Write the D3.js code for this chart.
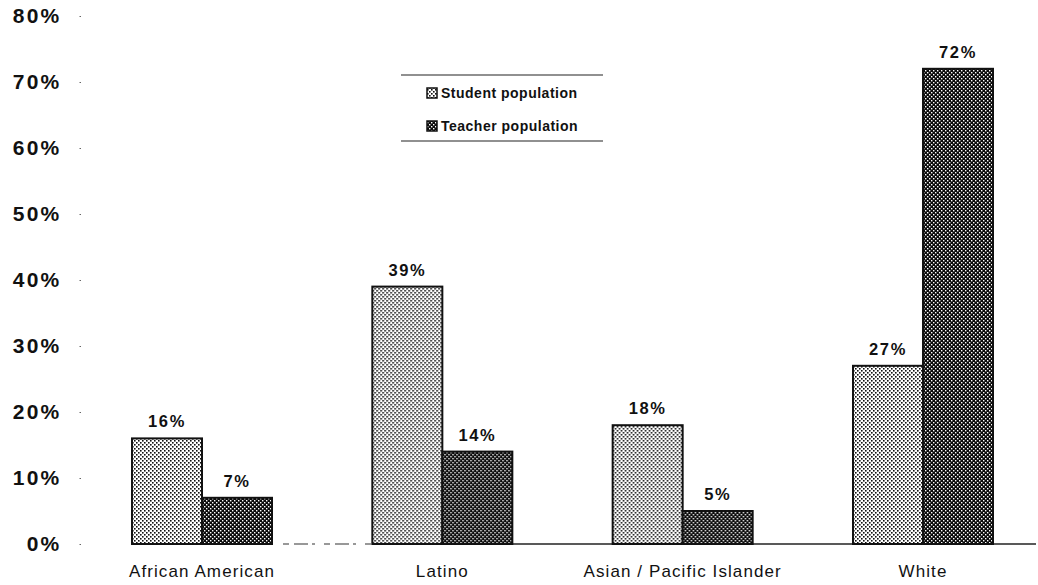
<!DOCTYPE html>
<html>
<head>
<meta charset="utf-8">
<script src="https://cdn.jsdelivr.net/npm/d3@7"></script>
<style>
  html, body { margin: 0; padding: 0; background: #fff; }
  svg { display: block; }
  text { font-family: "Liberation Sans", Arial, Helvetica, sans-serif; fill: #111; }
</style>
</head>
<body>
<svg id="chart" width="1038" height="585"></svg>
<script>
// Share of each group in the student and teacher populations (%)
const categories = ["African American", "Latino", "Asian / Pacific Islander", "White"];
const seriesNames = ["Student population", "Teacher population"];
const studentValues = [16, 39, 18, 27];
const teacherValues = [7, 14, 5, 72];
const tickValues = [0, 10, 20, 30, 40, 50, 60, 70, 80];

const svg = d3.select("#chart");
const defs = svg.append("defs");

// Halftone fills: dark dots on white for students, white dots on black for teachers
const pStudent = defs.append("pattern")
  .attr("id", "pat-student").attr("patternUnits", "userSpaceOnUse")
  .attr("width", 4).attr("height", 4);
pStudent.append("rect").attr("width", 4).attr("height", 4).attr("fill", "#fff");
pStudent.append("rect").attr("x", 0).attr("y", 0).attr("width", 1.6).attr("height", 1.6).attr("fill", "#111");
pStudent.append("rect").attr("x", 2).attr("y", 2).attr("width", 1.6).attr("height", 1.6).attr("fill", "#111");

const pTeacher = defs.append("pattern")
  .attr("id", "pat-teacher").attr("patternUnits", "userSpaceOnUse")
  .attr("width", 4).attr("height", 4);
pTeacher.append("rect").attr("width", 4).attr("height", 4).attr("fill", "#0a0a0a");
pTeacher.append("rect").attr("x", 0).attr("y", 0).attr("width", 1.4).attr("height", 1.4).attr("fill", "#fff");
pTeacher.append("rect").attr("x", 2).attr("y", 2).attr("width", 1.4).attr("height", 1.4).attr("fill", "#fff");

const fills = ["url(#pat-student)", "url(#pat-teacher)"];

// Scales
const y = d3.scaleLinear().domain([0, 80]).range([544, 16]);
const x0 = d3.scalePoint().domain(categories).range([202, 923]);
const x1 = d3.scaleBand().domain(seriesNames).range([-70, 70]).padding(0);

// Y axis: labels only, with tiny tick specks
const yAxis = d3.axisLeft(y).tickValues(tickValues)
  .tickFormat(d => d + "%").tickSize(1.5).tickPadding(18);
const gy = svg.append("g").attr("transform", "translate(81,0)").call(yAxis);
gy.select(".domain").remove();
gy.selectAll(".tick line").attr("stroke", "#666");
gy.selectAll(".tick text")
  .attr("font-size", 21).attr("font-weight", "bold")
  .attr("letter-spacing", 2.2)
  .style("font-family", "'Liberation Sans', Arial, sans-serif")
  .attr("fill", "#111");

// Baseline (broken near the left, solid further right)
svg.append("line")
  .attr("x1", 283).attr("x2", 372).attr("y1", y(0)).attr("y2", y(0))
  .attr("stroke", "#333").attr("stroke-width", 1.2).attr("stroke-dasharray", "6,5,14,4,3,9");
svg.append("line")
  .attr("x1", 372).attr("x2", 1036).attr("y1", y(0)).attr("y2", y(0))
  .attr("stroke", "#222").attr("stroke-width", 1.3);

// Bars
const rows = categories.map((c, i) => ({
  category: c,
  values: [studentValues[i], teacherValues[i]]
}));

const groups = svg.append("g").selectAll("g")
  .data(rows).join("g")
  .attr("transform", d => `translate(${x0(d.category)},0)`);

groups.selectAll("rect")
  .data(d => d.values.map((v, j) => ({ series: seriesNames[j], value: v, j })))
  .join("rect")
  .attr("x", d => x1(d.series))
  .attr("y", d => y(d.value))
  .attr("width", x1.bandwidth())
  .attr("height", d => y(0) - y(d.value))
  .attr("fill", d => fills[d.j])
  .attr("stroke", "#111")
  .attr("stroke-width", 2);

// Value labels above bars
groups.selectAll("text.val")
  .data(d => d.values.map((v, j) => ({ series: seriesNames[j], value: v })))
  .join("text")
  .attr("class", "val")
  .attr("x", d => x1(d.series) + x1.bandwidth() / 2)
  .attr("y", d => y(d.value) - 11)
  .attr("text-anchor", "middle")
  .attr("font-size", 16.5).attr("font-weight", "bold")
  .attr("letter-spacing", 1.6)
  .text(d => d.value + "%");

// Category labels
svg.append("g").selectAll("text")
  .data(categories).join("text")
  .attr("x", d => x0(d))
  .attr("y", 577)
  .attr("text-anchor", "middle")
  .attr("font-size", 17)
  .attr("letter-spacing", 1.1)
  .text(d => d);

// Legend
const legend = svg.append("g").attr("transform", "translate(401,75)");
legend.append("line").attr("x1", 0).attr("x2", 202).attr("y1", 0).attr("y2", 0)
  .attr("stroke", "#222").attr("stroke-width", 1.2);
legend.append("line").attr("x1", 0).attr("x2", 202).attr("y1", 66).attr("y2", 66)
  .attr("stroke", "#222").attr("stroke-width", 1.2);
const items = legend.selectAll("g.item")
  .data(seriesNames).join("g")
  .attr("class", "item")
  .attr("transform", (d, i) => `translate(26,${18 + i * 33})`);
items.append("rect")
  .attr("x", 0).attr("y", -5).attr("width", 10).attr("height", 10)
  .attr("fill", (d, i) => fills[i]).attr("stroke", "#111").attr("stroke-width", 1.5);
items.append("text")
  .attr("x", 14).attr("y", 0).attr("dy", "0.36em")
  .attr("font-size", 14).attr("font-weight", "bold")
  .attr("letter-spacing", 0.5)
  .text(d => d);
</script>
</body>
</html>
